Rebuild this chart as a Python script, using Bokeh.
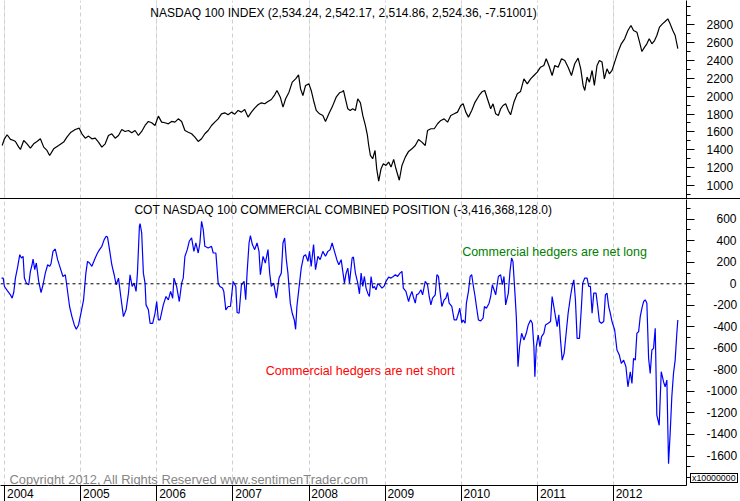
from bokeh.plotting import figure
from bokeh.models import (Range1d, FixedTicker, Grid, Span, Label, Spacer, Div,
                          CustomJSTickFormatter)
from bokeh.layouts import column
from bokeh.embed import file_html
from bokeh.resources import INLINE

# ---------------- data (decimal years, values) ----------------
ndx_t = [2003.966, 2003.996, 2004.031, 2004.075, 2004.118, 2004.140, 2004.184, 2004.206, 2004.249, 2004.293,
         2004.337, 2004.380, 2004.424, 2004.468, 2004.512, 2004.555, 2004.590, 2004.643, 2004.708, 2004.774,
         2004.817, 2004.870, 2004.927, 2004.979, 2005.014, 2005.058, 2005.101, 2005.145, 2005.189, 2005.232,
         2005.276, 2005.320, 2005.363, 2005.407, 2005.451, 2005.495, 2005.538, 2005.582, 2005.626, 2005.669,
         2005.713, 2005.757, 2005.800, 2005.844, 2005.888, 2005.931, 2005.975, 2006.019, 2006.062, 2006.106,
         2006.150, 2006.193, 2006.237, 2006.281, 2006.325, 2006.368, 2006.412, 2006.456, 2006.499, 2006.543,
         2006.587, 2006.630, 2006.674, 2006.718, 2006.761, 2006.805, 2006.849, 2006.892, 2006.936, 2006.980,
         2007.023, 2007.067, 2007.111, 2007.154, 2007.198, 2007.242, 2007.285, 2007.329, 2007.373, 2007.417,
         2007.460, 2007.504, 2007.548, 2007.578, 2007.622, 2007.657, 2007.692, 2007.736, 2007.779, 2007.823,
         2007.862, 2007.888, 2007.919, 2007.954, 2007.998, 2008.028, 2008.059, 2008.094, 2008.137, 2008.181,
         2008.216, 2008.260, 2008.303, 2008.356, 2008.400, 2008.443, 2008.452, 2008.478, 2008.509, 2008.540,
         2008.574, 2008.609, 2008.640, 2008.675, 2008.706, 2008.740, 2008.767, 2008.784, 2008.806, 2008.836,
         2008.867, 2008.889, 2008.915, 2008.946, 2008.976, 2009.011, 2009.046, 2009.077, 2009.112, 2009.142,
         2009.186, 2009.221, 2009.265, 2009.308, 2009.352, 2009.396, 2009.439, 2009.483, 2009.527, 2009.557,
         2009.601, 2009.645, 2009.689, 2009.732, 2009.776, 2009.820, 2009.863, 2009.907, 2009.951, 2009.994,
         2010.025, 2010.060, 2010.095, 2010.138, 2010.182, 2010.235, 2010.278, 2010.309, 2010.344, 2010.387,
         2010.418, 2010.453, 2010.488, 2010.518, 2010.549, 2010.584, 2010.619, 2010.649, 2010.693, 2010.737,
         2010.780, 2010.824, 2010.868, 2010.912, 2010.955, 2010.999, 2011.042, 2011.086, 2011.117, 2011.152,
         2011.195, 2011.230, 2011.274, 2011.318, 2011.361, 2011.405, 2011.449, 2011.492, 2011.536, 2011.571,
         2011.602, 2011.624, 2011.654, 2011.685, 2011.720, 2011.750, 2011.785, 2011.816, 2011.851, 2011.881,
         2011.916, 2011.947, 2011.982, 2012.017, 2012.060, 2012.104, 2012.148, 2012.191, 2012.231, 2012.265,
         2012.309, 2012.344, 2012.375, 2012.410, 2012.440, 2012.471, 2012.506, 2012.541, 2012.571, 2012.606,
         2012.645, 2012.680, 2012.715, 2012.746, 2012.781, 2012.812, 2012.847]
ndx_v = [1448, 1523, 1568, 1516, 1504, 1493, 1430, 1404, 1504, 1467,
         1419, 1467, 1493, 1523, 1430, 1393, 1337, 1411, 1448, 1486,
         1542, 1597, 1627, 1642, 1579, 1530, 1553, 1523, 1530, 1486,
         1430, 1467, 1560, 1579, 1530, 1560, 1627, 1605, 1616, 1590,
         1616, 1560, 1605, 1672, 1717, 1702, 1672, 1776, 1709, 1702,
         1690, 1717, 1709, 1746, 1717, 1616, 1597, 1579, 1542, 1493,
         1523, 1579, 1616, 1672, 1709, 1746, 1802, 1813, 1791, 1821,
         1798, 1840, 1821, 1851, 1765, 1821, 1866, 1903, 1925, 1914,
         1940, 1962, 2014, 2063, 1988, 1877, 1970, 2044, 2156, 2193,
         2238, 2081, 2007, 2119, 2137, 2063, 1951, 1840, 1802, 1784,
         1717, 1802, 1877, 1988, 2037, 2052, 2063, 1970, 1858, 1840,
         1858, 1840, 1970, 1925, 1784, 1672, 1560, 1448, 1337, 1300,
         1393, 1188, 1050, 1188, 1244, 1225, 1263, 1207, 1292, 1188,
         1060, 1225, 1318, 1382, 1411, 1448, 1516, 1486, 1448, 1616,
         1635, 1635, 1691, 1728, 1746, 1709, 1784, 1802, 1821, 1895,
         1914, 1821, 1765, 1840, 1933, 2007, 2052, 2063, 1970, 1858,
         1914, 1802, 1784, 1858, 1895, 1914, 1840, 1791, 1933, 2026,
         2052, 2193, 2137, 2193, 2230, 2268, 2323, 2342, 2417, 2342,
         2230, 2342, 2323, 2417, 2398, 2323, 2230, 2361, 2424, 2305,
         2119, 2063, 2212, 2156, 2286, 2119, 2342, 2398, 2380, 2193,
         2305, 2249, 2286, 2380, 2491, 2584, 2640, 2733, 2789, 2733,
         2714, 2603, 2498, 2547, 2584, 2640, 2584, 2621, 2677, 2770,
         2807, 2833, 2863, 2807, 2733, 2677, 2530]

cot_t = [2003.957, 2003.979, 2003.996, 2004.031, 2004.075, 2004.097, 2004.118, 2004.140, 2004.171, 2004.197,
         2004.219, 2004.241, 2004.258, 2004.284, 2004.315, 2004.337, 2004.359, 2004.372, 2004.394, 2004.415,
         2004.446, 2004.477, 2004.503, 2004.533, 2004.564, 2004.590, 2004.608, 2004.634, 2004.664, 2004.695,
         2004.730, 2004.765, 2004.796, 2004.817, 2004.852, 2004.883, 2004.914, 2004.940, 2004.970, 2005.001,
         2005.036, 2005.066, 2005.088, 2005.114, 2005.145, 2005.189, 2005.219, 2005.246, 2005.276, 2005.307,
         2005.333, 2005.350, 2005.377, 2005.407, 2005.438, 2005.464, 2005.495, 2005.525, 2005.560, 2005.595,
         2005.626, 2005.647, 2005.674, 2005.700, 2005.726, 2005.744, 2005.770, 2005.779, 2005.800, 2005.822,
         2005.844, 2005.857, 2005.888, 2005.910, 2005.944, 2005.975, 2005.997, 2006.019, 2006.041, 2006.084,
         2006.119, 2006.150, 2006.180, 2006.207, 2006.224, 2006.259, 2006.294, 2006.325, 2006.346, 2006.368,
         2006.399, 2006.425, 2006.456, 2006.486, 2006.512, 2006.543, 2006.565, 2006.587, 2006.609, 2006.630,
         2006.674, 2006.718, 2006.740, 2006.775, 2006.805, 2006.827, 2006.862, 2006.879, 2006.906, 2006.936,
         2006.967, 2007.002, 2007.037, 2007.054, 2007.080, 2007.111, 2007.146, 2007.167, 2007.185, 2007.211,
         2007.229, 2007.255, 2007.285, 2007.316, 2007.342, 2007.360, 2007.395, 2007.425, 2007.460, 2007.482,
         2007.504, 2007.535, 2007.570, 2007.605, 2007.635, 2007.657, 2007.679, 2007.701, 2007.722, 2007.753,
         2007.779, 2007.806, 2007.823, 2007.840, 2007.867, 2007.897, 2007.928, 2007.954, 2007.985, 2008.006,
         2008.028, 2008.059, 2008.085, 2008.116, 2008.146, 2008.181, 2008.216, 2008.247, 2008.277, 2008.303,
         2008.334, 2008.365, 2008.391, 2008.422, 2008.443, 2008.465, 2008.487, 2008.509, 2008.531, 2008.566,
         2008.583, 2008.609, 2008.640, 2008.662, 2008.684, 2008.706, 2008.727, 2008.749, 2008.771, 2008.793,
         2008.815, 2008.837, 2008.859, 2008.880, 2008.902, 2008.924, 2008.959, 2008.989, 2009.011, 2009.046,
         2009.077, 2009.107, 2009.134, 2009.164, 2009.195, 2009.221, 2009.239, 2009.273, 2009.308, 2009.326,
         2009.352, 2009.369, 2009.396, 2009.413, 2009.439, 2009.470, 2009.492, 2009.527, 2009.557, 2009.579,
         2009.601, 2009.623, 2009.658, 2009.680, 2009.701, 2009.719, 2009.745, 2009.776, 2009.798, 2009.820,
         2009.841, 2009.876, 2009.907, 2009.937, 2009.964, 2009.981, 2010.007, 2010.025, 2010.051, 2010.068,
         2010.095, 2010.117, 2010.138, 2010.160, 2010.182, 2010.200, 2010.226, 2010.256, 2010.287, 2010.305,
         2010.331, 2010.366, 2010.387, 2010.409, 2010.431, 2010.453, 2010.488, 2010.518, 2010.540, 2010.562,
         2010.584, 2010.619, 2010.641, 2010.662, 2010.680, 2010.706, 2010.724, 2010.746, 2010.767, 2010.794,
         2010.824, 2010.855, 2010.881, 2010.912, 2010.934, 2010.955, 2010.968, 2010.986, 2011.012, 2011.034,
         2011.056, 2011.086, 2011.108, 2011.143, 2011.174, 2011.195, 2011.217, 2011.239, 2011.261, 2011.283,
         2011.305, 2011.327, 2011.353, 2011.379, 2011.405, 2011.436, 2011.458, 2011.480, 2011.501, 2011.523,
         2011.554, 2011.580, 2011.597, 2011.624, 2011.654, 2011.676, 2011.698, 2011.720, 2011.742, 2011.772,
         2011.794, 2011.816, 2011.842, 2011.873, 2011.895, 2011.916, 2011.938, 2011.960, 2011.982, 2012.017,
         2012.047, 2012.078, 2012.104, 2012.135, 2012.165, 2012.191, 2012.222, 2012.244, 2012.265, 2012.288,
         2012.309, 2012.332, 2012.353, 2012.375, 2012.397, 2012.419, 2012.440, 2012.463, 2012.484, 2012.506,
         2012.528, 2012.550, 2012.571, 2012.602, 2012.629, 2012.659, 2012.680, 2012.703, 2012.725, 2012.746,
         2012.768, 2012.790, 2012.812, 2012.834, 2012.847]
cot_v = [53, 53, -25, -62, -103, -134, -81, 53, 162, 270,
         239, 255, 53, 6, -9, 115, 177, 230, 131, 193,
         22, -81, -9, 99, 177, 162, 186, 301, 323, 224,
         146, 68, 84, -25, -211, -305, -382, -423, -382, -274,
         -149, 99, 208, 193, 162, 239, 286, 317, 348, 410,
         441, 435, 317, 177, 84, -9, 53, -118, -305, -242,
         -87, 84, -25, 6, -71, 99, 535, 559, 472, 99,
         6, -196, -242, -367, -367, -274, -165, -336, -336, -196,
         -118, -149, -71, -134, 53, -25, -165, 6, 53, 255,
         317, 395, 426, 301, 379, 286, 379, 581, 503, 348,
         333, 348, 286, 286, 6, -25, -40, -71, -242, -211,
         -211, 22, -25, -267, -274, -9, 22, -149, 99, 379,
         448, 364, 317, 379, 301, 84, 255, 193, 317, 99,
         -25, 6, -134, 53, 99, 379, 426, 224, 99, -180,
         -274, -336, -423, -211, -40, 146, 255, 270, 208, 301,
         162, 364, 131, 255, 224, 301, 255, 301, 317, 379,
         301, 224, 177, 224, 115, 6, 99, 146, 6, 239,
         249, 99, 6, -93, 99, -25, 68, -40, -87, -118,
         68, -40, -25, -56, 0, -9, -40, -19, 22, 62,
         53, 68, 84, 68, 99, 115, -40, -71, -165, -118,
         -71, -118, -180, -103, -93, -56, -103, 22, -9, -118,
         -196, -134, -103, 84, 68, -56, -211, -149, -134, -81,
         -180, -211, -336, -336, -274, -227, -361, -336, -367, -180,
         -71, 68, 84, -25, -118, -211, -336, -345, -320, -211,
         -227, -180, -118, -9, -56, -103, 68, 84, -9, 68,
         -196, -87, 115, 239, 208, -87, -305, -771, -584, -460,
         -522, -460, -382, -336, -367, -584, -864, -584, -476, -584,
         -491, -460, -382, -367, -351, -118, -211, -305, -398, -289,
         -522, -709, -646, -460, -274, -118, -25, 37, -149, -507,
         -507, -211, 6, 53, 53, -25, -25, -274, -87, -87,
         -211, -351, -367, -351, -103, -87, -211, -274, -351, -429,
         -615, -662, -740, -709, -771, -957, -817, -926, -693, -709,
         -460, -445, -305, -227, -165, -149, -180, -693, -833, -615,
         -600, -413, -1221, -1315, -817, -910, -957, -895, -1672, -1392,
         -1050, -833, -709, -460, -336]

years = [2004, 2005, 2006, 2007, 2008, 2009, 2010, 2011, 2012]
year_labels = ["2004", "2005", "2006", "2007", "2008", "2009", "2010", "2011", "2012"]
top_ticks = [1000, 1200, 1400, 1600, 1800, 2000, 2200, 2400, 2600, 2800]
top_tick_labels = ["1000", "1200", "1400", "1600", "1800", "2000", "2200", "2400", "2600", "2800"]
bot_ticks = [-1600, -1400, -1200, -1000, -800, -600, -400, -200, 0, 200, 400, 600]
bot_tick_labels = ["-1600", "-1400", "-1200", "-1000", "-800", "-600", "-400", "-200",
                   "0", "200", "400", "600"]

top_title = "NASDAQ 100 INDEX (2,534.24, 2,542.17, 2,514.86, 2,524.36, -7.51001)"
bot_title = "COT NASDAQ 100 COMMERCIAL COMBINED POSITION (-3,416,368,128.0)"
long_text = "Commercial hedgers are net long"
short_text = "Commercial hedgers are net short"
copyright_text = "Copyright 2012, All Rights Reserved  www.sentimenTrader.com"
scale_text = "x10000000"

# ---------------- layout constants ----------------
W = 740
RIGHT = 52
H_TOP = 198
H_BOT = 302          # 286 frame + 16 axis row
XMIN, XMAX = 2003.944, 2012.961
TOP_Y = (856, 3068)
BOT_Y = (-1874, 783)
FONT = "Liberation Sans"
GRID_COLOR = "#cfcfcf"
YEAR_LABEL_SHIFT = 0.205   # year labels sit just right of the year separator

xr = Range1d(XMIN, XMAX)

# right-aligned label text (figure / punctuation spaces pad narrow labels)
FS, PS = "\u2007", "\u2008"


def pad_label(s):
    widths = {"-": 0.333}
    w = sum(widths.get(c, 0.556) for c in s)
    target = 2.557
    out = ""
    while target - w >= 0.5:
        out += FS
        w += 0.556
    if target - w >= 0.2:
        out += PS
    return out + s


label_js = """
const i = tick_vals.indexOf(tick);
return i >= 0 ? tick_text[i] : "";
"""


def base_fig(height, yr, bottom):
    p = figure(width=W, height=height, x_range=xr, y_range=Range1d(*yr),
               output_backend="svg", toolbar_location=None,
               x_axis_location="below" if bottom else None,
               y_axis_location="right",
               min_border_left=0, min_border_right=RIGHT, min_border_top=0,
               min_border_bottom=16 if bottom else 0)
    p.outline_line_color = None
    p.background_fill_color = "white"
    p.border_fill_color = "white"
    p.ygrid.visible = False
    ya = p.yaxis[0]
    ya.axis_line_color = "black"
    ya.major_tick_line_color = "black"
    ya.minor_tick_line_color = "black"
    ya.major_tick_out = 8
    ya.major_tick_in = 0
    ya.minor_tick_out = 4
    ya.minor_tick_in = 0
    ya.major_label_standoff = 12
    ya.major_label_text_font = FONT
    ya.major_label_text_font_size = "12px"
    ya.major_label_text_color = "black"
    return p


# ---------------- top panel ----------------
p1 = base_fig(H_TOP, TOP_Y, False)
p1.yaxis[0].ticker = FixedTicker(ticks=top_ticks, minor_ticks=list(range(900, 3100, 100)))
p1.yaxis[0].formatter = CustomJSTickFormatter(
    args=dict(tick_vals=top_ticks, tick_text=top_tick_labels), code=label_js)
p1.add_layout(Grid(dimension=0, ticker=FixedTicker(ticks=years),
                   grid_line_color=GRID_COLOR, grid_line_dash="4 3"))
p1.line(ndx_t, ndx_v, line_color="black", line_width=1.2)
p1.add_layout(Label(x=(XMIN + XMAX) / 2, y=TOP_Y[1], y_offset=-12, text=top_title,
                    text_align="center", text_baseline="middle",
                    text_font=FONT, text_font_size="12px", text_color="black"))

# ---------------- separator ----------------
sep = Spacer(width=W, height=1, styles={"background-color": "black"}, margin=0)

# ---------------- bottom panel ----------------
p2 = base_fig(H_BOT, BOT_Y, True)
p2.yaxis[0].ticker = FixedTicker(ticks=bot_ticks, minor_ticks=list(range(-1800, 900, 100)))
p2.yaxis[0].formatter = CustomJSTickFormatter(
    args=dict(tick_vals=bot_ticks, tick_text=[pad_label(s) for s in bot_tick_labels]),
    code=label_js)

label_pos = [y + YEAR_LABEL_SHIFT for y in years]
xa = p2.xaxis[0]
xa.ticker = FixedTicker(ticks=label_pos, minor_ticks=years)
xa.formatter = CustomJSTickFormatter(args=dict(tick_vals=label_pos, tick_text=year_labels),
                                     code=label_js)
xa.axis_line_color = "black"
xa.major_tick_line_color = None
xa.minor_tick_line_color = "black"
xa.major_tick_out = 16
xa.major_tick_in = 0
xa.minor_tick_out = 16
xa.minor_tick_in = 0
xa.major_label_standoff = -13
xa.major_label_text_font = FONT
xa.major_label_text_font_size = "12px"
xa.major_label_text_color = "black"
p2.xgrid.ticker = FixedTicker(ticks=years)
p2.xgrid.grid_line_color = GRID_COLOR
p2.xgrid.grid_line_dash = "4 3"

p2.add_layout(Span(location=0, dimension="width", line_color="black",
                   line_dash="3 3", line_width=1))
p2.line(cot_t, cot_v, line_color="#0000ff", line_width=1.2)

p2.add_layout(Label(x=(XMIN + XMAX) / 2, y=BOT_Y[1], y_offset=-10, text=bot_title,
                    text_align="center", text_baseline="middle",
                    text_font=FONT, text_font_size="12px", text_color="black"))
p2.add_layout(Label(x=2010.012, y=298, text=long_text, text_align="left",
                    text_baseline="middle", text_font=FONT, text_font_size="12.5px",
                    text_color="#008000"))
p2.add_layout(Label(x=2007.430, y=-811, text=short_text, text_align="left",
                    text_baseline="middle", text_font=FONT, text_font_size="12.5px",
                    text_color="#ff0000"))
p2.add_layout(Label(x=2004.062, y=-1818, text=copyright_text, text_align="left",
                    text_baseline="middle", text_font=FONT, text_font_size="12.9px",
                    text_color="#858585"))

box = Div(text=scale_text, margin=0,
          styles={"position": "absolute", "left": "690px", "top": "473px",
                  "font-family": FONT, "font-size": "8.8px", "line-height": "8px",
                  "border": "1px solid black", "padding": "0px 1px",
                  "background-color": "white", "color": "black", "z-index": "10"})

layout = column(p1, sep, p2, box, spacing=0)
open("out.html", "w").write(file_html(layout, INLINE))
